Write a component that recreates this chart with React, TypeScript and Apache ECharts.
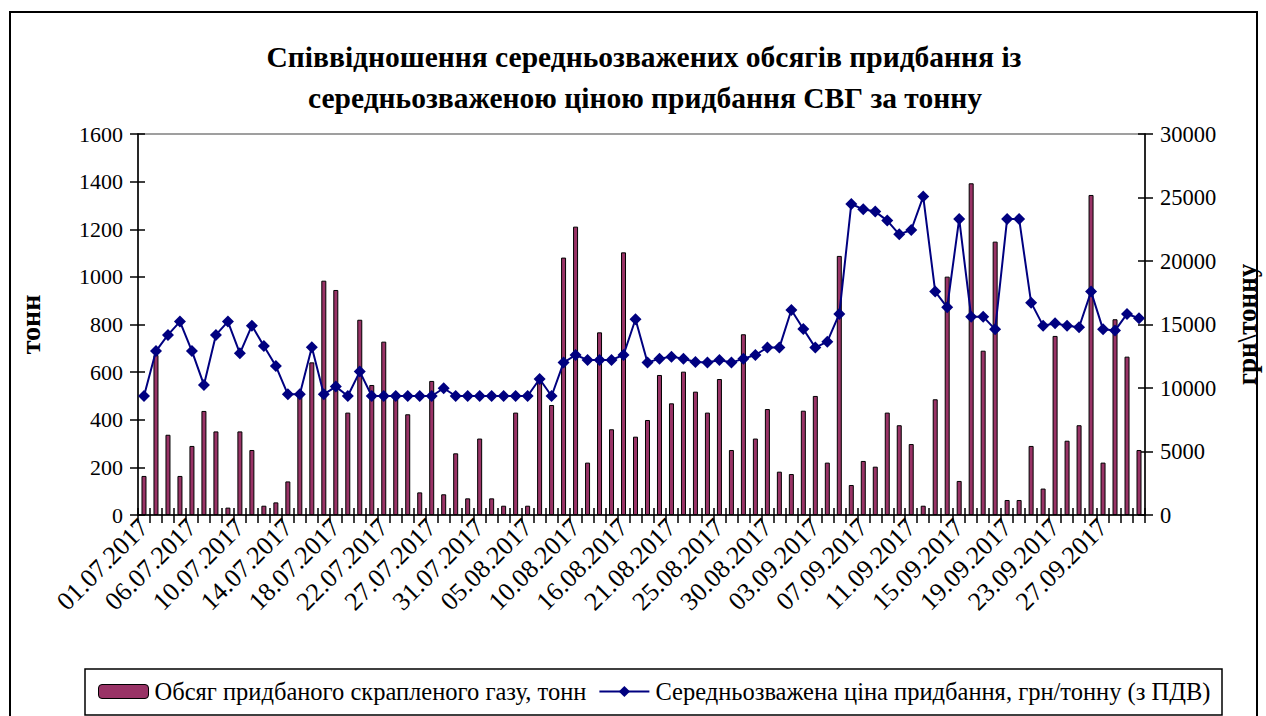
import React, { useEffect, useRef } from "react";
import * as echarts from "echarts";

const dates: string[] = [
  "01.07.2017", "03.07.2017", "04.07.2017", "05.07.2017", "06.07.2017", "07.07.2017", "08.07.2017", "09.07.2017",
  "10.07.2017", "11.07.2017", "12.07.2017", "13.07.2017", "14.07.2017", "15.07.2017", "16.07.2017", "17.07.2017",
  "18.07.2017", "19.07.2017", "20.07.2017", "21.07.2017", "22.07.2017", "24.07.2017", "25.07.2017", "26.07.2017",
  "27.07.2017", "28.07.2017", "29.07.2017", "30.07.2017", "31.07.2017", "02.08.2017", "03.08.2017", "04.08.2017",
  "05.08.2017", "07.08.2017", "08.08.2017", "09.08.2017", "10.08.2017", "11.08.2017", "12.08.2017", "14.08.2017",
  "16.08.2017", "17.08.2017", "18.08.2017", "19.08.2017", "21.08.2017", "22.08.2017", "23.08.2017", "24.08.2017",
  "25.08.2017", "26.08.2017", "28.08.2017", "29.08.2017", "30.08.2017", "31.08.2017", "01.09.2017", "02.09.2017",
  "03.09.2017", "04.09.2017", "05.09.2017", "06.09.2017", "07.09.2017", "08.09.2017", "09.09.2017", "10.09.2017",
  "11.09.2017", "12.09.2017", "13.09.2017", "14.09.2017", "15.09.2017", "16.09.2017", "17.09.2017", "18.09.2017",
  "19.09.2017", "20.09.2017", "21.09.2017", "22.09.2017", "23.09.2017", "24.09.2017", "25.09.2017", "26.09.2017",
  "27.09.2017", "28.09.2017", "29.09.2017", "30.09.2017",
];

const volumeTons: number[] = [
  164, 672, 337, 164, 290, 437, 351, 31, 351, 273, 39, 53, 141, 500, 641, 984,
  945, 430, 820, 546, 728, 495, 423, 95, 563, 87, 259, 70, 321, 70, 39, 430,
  39, 560, 462, 1081, 1211, 220, 767, 360, 1103, 329, 399, 588, 469, 602, 518, 430,
  571, 273, 759, 321, 445, 182, 172, 438, 500, 220, 1088, 126, 227, 203, 430, 377,
  298, 39, 486, 1001, 143, 1393, 690, 1148, 63, 63, 290, 111, 752, 312, 377, 1344,
  220, 822, 665, 273,
];

const priceUahPerTon: number[] = [
  9370, 12910, 14180, 15230, 12910, 10240, 14180, 15230, 12730, 14910, 13310, 11730, 9500, 9500, 13200, 9500,
  10110, 9370, 11290, 9370, 9370, 9370, 9370, 9370, 9370, 9980, 9370, 9370, 9370, 9370, 9370, 9370,
  9370, 10710, 9370, 12000, 12600, 12210, 12210, 12210, 12600, 15410, 12000, 12310, 12470, 12310, 12050, 12000,
  12210, 12000, 12310, 12600, 13180, 13180, 16140, 14650, 13180, 13650, 15830, 24490, 24070, 23890, 23180, 22100,
  22440, 25070, 17590, 16350, 23310, 15620, 15620, 14620, 23310, 23310, 16720, 14910, 15090, 14910, 14780, 17590,
  14620, 14520, 15830, 15490,
];

const titleLines: string[] = [
  "Співвідношення середньозважених обсягів придбання із",
  "середньозваженою ціною придбання СВГ за тонну",
];
const leftAxisName = "тонн";
const rightAxisName = "грн\\тонну";
const seriesNames: string[] = [
  "Обсяг придбаного скрапленого газу, тонн",
  "Середньозважена ціна придбання, грн/тонну (з ПДВ)",
];

const FONT = "'Liberation Serif', 'Times New Roman', serif";

export default function App() {
  const ref = useRef<HTMLDivElement>(null);
  useEffect(() => {
    if (!ref.current) return;
    const chart = echarts.init(ref.current, null, { renderer: "svg" });
    const black = "#000";
    const plain = (v: number) => String(v);
    const yCommon = (pos: "left" | "right", max: number, interval: number) => ({
      type: "value" as const,
      position: pos,
      min: 0,
      max,
      interval,
      splitLine: { show: false },
      axisLine: { show: true, lineStyle: { color: black, width: 1.5 } },
    });
    chart.setOption({
      animation: false,
      backgroundColor: "#fff",
      graphic: [
        {
          type: "rect",
          shape: { x: 10, y: 12, width: 1247, height: 730 },
          style: { fill: "none", stroke: black, lineWidth: 2 },
          z: -1,
        },
        {
          type: "text",
          x: 644,
          y: 57,
          style: {
            text: titleLines[0],
            textAlign: "center",
            textVerticalAlign: "middle",
            fontFamily: FONT,
            fontSize: 29.5,
            fontWeight: "bold",
            fill: black,
          },
        },
        {
          type: "text",
          x: 645,
          y: 98,
          style: {
            text: titleLines[1],
            textAlign: "center",
            textVerticalAlign: "middle",
            fontFamily: FONT,
            fontSize: 29.5,
            fontWeight: "bold",
            fill: black,
          },
        },
        {
          type: "rect",
          shape: { x: 85, y: 669, width: 1137, height: 46 },
          style: { fill: "none", stroke: black, lineWidth: 1.5 },
        },
      ],
      legend: {
        top: 679,
        left: 98,
        padding: 0,
        itemGap: 12,
        itemWidth: 50,
        itemHeight: 14,
        textStyle: { fontFamily: FONT, fontSize: 24.5, color: black, padding: [0, 0, 0, 1] },
        data: [
          { name: seriesNames[0], itemStyle: { color: "#993366", borderColor: black, borderWidth: 1 } },
          { name: seriesNames[1] },
        ],
      },
      grid: {
        left: 138,
        right: 121,
        top: 134,
        bottom: 201,
        show: true,
        borderColor: "#808080",
        borderWidth: 1.5,
        containLabel: false,
        outerBoundsMode: "none",
      },
      xAxis: [
        {
          type: "category",
          data: dates,
          position: "bottom",
          axisLine: { show: true, lineStyle: { color: black, width: 1.5 } },
          axisTick: { show: true, interval: 0, length: 8, lineStyle: { color: black, width: 1.5 } },
          axisLabel: {
            interval: 3,
            rotate: 45,
            fontFamily: FONT,
            fontSize: 26,
            color: black,
            margin: 8,
          },
        },
        {
          type: "category",
          data: dates,
          position: "bottom",
          axisLine: { show: false },
          axisTick: { show: true, inside: true, interval: 0, length: 7, lineStyle: { color: black, width: 1.5 } },
          axisLabel: { show: false },
        },
      ],
      yAxis: [
        {
          ...yCommon("left", 1600, 200),
          axisTick: { show: true, length: 8, lineStyle: { color: black, width: 1.5 } },
          axisLabel: { fontFamily: FONT, fontSize: 22, color: black, margin: 15, formatter: plain },
          name: leftAxisName,
          nameLocation: "middle",
          nameRotate: 90,
          nameGap: 94,
          nameTextStyle: { fontFamily: FONT, fontSize: 28, fontWeight: "bold", color: black },
        },
        {
          ...yCommon("right", 30000, 5000),
          axisTick: { show: true, length: 8, lineStyle: { color: black, width: 1.5 } },
          axisLabel: { fontFamily: FONT, fontSize: 22.5, color: black, margin: 15, formatter: plain },
          name: rightAxisName,
          nameLocation: "middle",
          nameRotate: 90,
          nameGap: 88,
          nameTextStyle: { fontFamily: FONT, fontSize: 27, fontWeight: "bold", color: black },
        },
        {
          ...yCommon("left", 1600, 200),
          axisLine: { show: false },
          axisTick: { show: true, inside: true, length: 7, lineStyle: { color: black, width: 1.5 } },
          axisLabel: { show: false },
        },
        {
          ...yCommon("right", 30000, 5000),
          axisLine: { show: false },
          axisTick: { show: true, inside: true, length: 7, lineStyle: { color: black, width: 1.5 } },
          axisLabel: { show: false },
        },
      ],
      series: [
        {
          name: seriesNames[0],
          type: "bar",
          xAxisIndex: 0,
          yAxisIndex: 0,
          data: volumeTons,
          barWidth: 5,
          itemStyle: { color: "#993366", borderColor: black, borderWidth: 1 },
        },
        {
          name: seriesNames[1],
          type: "line",
          xAxisIndex: 0,
          yAxisIndex: 1,
          data: priceUahPerTon,
          symbol: "diamond",
          symbolSize: 12,
          showAllSymbol: true,
          color: "#000080",
          lineStyle: { color: "#000080", width: 2 },
          itemStyle: { color: "#000080" },
          z: 3,
        },
      ],
    });
    return () => chart.dispose();
  }, []);
  return (
    <div
      ref={ref}
      style={{ position: "absolute", left: 0, top: 0, width: 1266, height: 716 }}
    />
  );
}
